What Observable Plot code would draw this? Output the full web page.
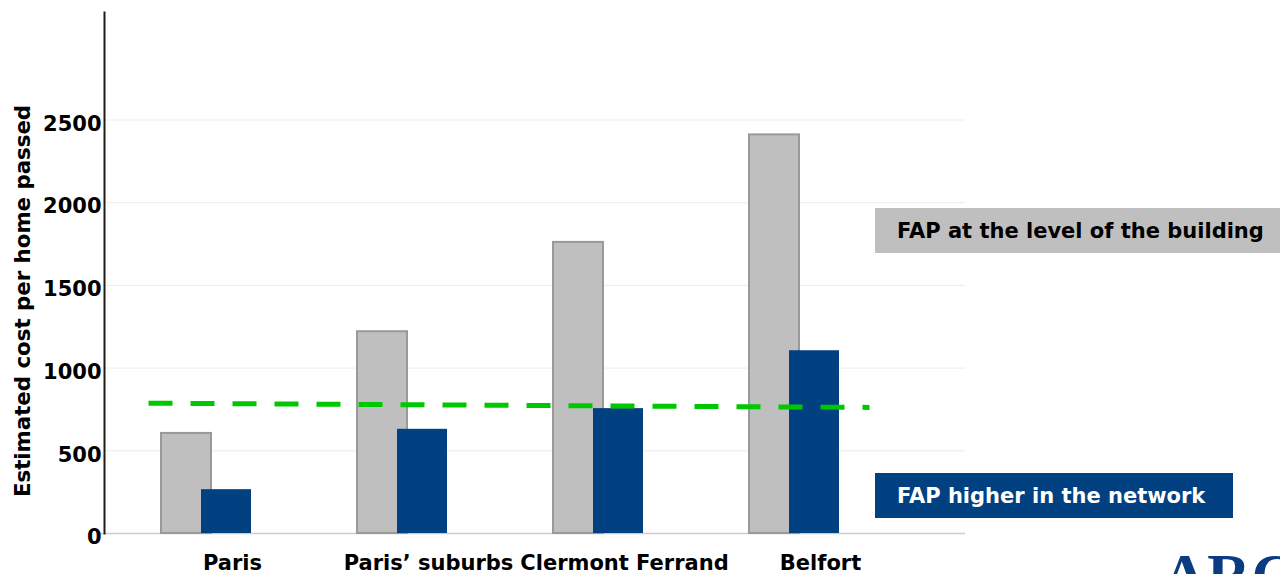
<!DOCTYPE html>
<html>
<head>
<meta charset="utf-8">
<script src="https://cdn.jsdelivr.net/npm/d3@7"></script>
<script src="https://cdn.jsdelivr.net/npm/@observablehq/plot@0.6"></script>
<style>
  html, body { margin: 0; padding: 0; background: #fff; overflow: hidden; }
  #wrap { position: relative; width: 1280px; height: 574px; overflow: hidden; font-family: "DejaVu Sans", Verdana, sans-serif; }
  #chart { position: absolute; left: 0; top: 0; }
  .ytitle { position: absolute; left: 22px; top: 301px; transform: translate(-50%, -50%) rotate(-90deg); white-space: nowrap; font-weight: bold; font-size: 21.3px; color: #000; }
  .legend { position: absolute; left: 875px; height: 45px; line-height: 46px; padding-left: 22px; box-sizing: border-box; font-weight: bold; font-size: 21px; white-space: nowrap; }
  .logo { position: absolute; left: 1163px; top: 545px; font-family: "Liberation Serif", serif; font-weight: bold; font-size: 60px; line-height: 1; color: #0b3b82; letter-spacing: 1px; }
</style>
</head>
<body>
<div id="wrap">
  <div id="chart"></div>
</div>
<script>
// ---- data ----
const cities = ["Paris", "Paris\u2019 suburbs", "Clermont Ferrand", "Belfort"];
const buildingCost = [605, 1220, 1760, 2410];   // FAP at the level of the building
const networkCost = [265, 630, 755, 1105];      // FAP higher in the network
const seriesNames = ["FAP at the level of the building", "FAP higher in the network"];
const benchmarkStart = 786;  // dashed green reference line, left end (at Paris)
const benchmarkEnd = 765;    // right end (at Belfort)
const yTicks = [0, 500, 1000, 1500, 2000, 2500];
const yTitle = "Estimated cost per home passed";

const grayRows = cities.map((c, i) => ({city: c, value: buildingCost[i]}));
const blueRows = cities.map((c, i) => ({city: c, value: networkCost[i]}));

const font = "DejaVu Sans, Verdana, sans-serif";

const chart = Plot.plot({
  width: 1280,
  height: 574,
  marginLeft: 104,
  marginRight: 315,
  marginTop: 12,
  marginBottom: 41,
  style: {fontFamily: font, background: "transparent", overflow: "visible"},
  x: {domain: cities, range: [107, 892.5], padding: 0, axis: null},
  y: {domain: [0, 3150], axis: null},
  marks: [
    Plot.ruleY(yTicks.filter(d => d > 0), {stroke: "#ececec", strokeWidth: 1}),
    Plot.ruleY([0], {stroke: "#cccccc", strokeWidth: 1.5, insetLeft: -6}),
    Plot.barY(grayRows, {x: "city", y: "value", fill: "#bfbfbf", stroke: "#999999", strokeWidth: 2, insetLeft: 53, insetRight: 93}),
    Plot.barY(blueRows, {x: "city", y: "value", fill: "#014181", insetLeft: 93, insetRight: 53}),
    Plot.arrow([{x1: cities[0], x2: cities[cities.length - 1], y1: benchmarkStart, y2: benchmarkEnd}], {
      x1: "x1", x2: "x2", y1: "y1", y2: "y2",
      stroke: "#00c800", strokeWidth: 5, strokeDasharray: "24,18", strokeLinecap: "butt",
      headLength: 0, bend: 0, insetStart: -58, insetEnd: -75
    }),
    Plot.frame({anchor: "left", stroke: "#1e1e14", strokeWidth: 2}),
    Plot.axisY({ticks: yTicks, tickSize: 0, tickPadding: 3, fontSize: 21, fontWeight: "bold", fill: "#000", dy: 4, label: null, tickFormat: d => String(d)}),
    Plot.axisX({tickSize: 0, tickPadding: 22, fontSize: 21, fontWeight: "bold", fill: "#000", dx: 26, label: null})
  ]
});
document.getElementById("chart").appendChild(chart);

const wrap = document.getElementById("wrap");
const t = document.createElement("div");
t.className = "ytitle";
t.textContent = yTitle;
wrap.appendChild(t);

const l1 = document.createElement("div");
l1.className = "legend";
l1.style.top = "208px";
l1.style.width = "405px";
l1.style.background = "#bfbfbf";
l1.style.color = "#000";
l1.textContent = seriesNames[0];
wrap.appendChild(l1);

const l2 = document.createElement("div");
l2.className = "legend";
l2.style.top = "473px";
l2.style.width = "358px";
l2.style.background = "#014181";
l2.style.color = "#fff";
l2.textContent = seriesNames[1];
wrap.appendChild(l2);

const logo = document.createElement("div");
logo.className = "logo";
logo.textContent = "ARCEP";
wrap.appendChild(logo);
</script>
</body>
</html>
